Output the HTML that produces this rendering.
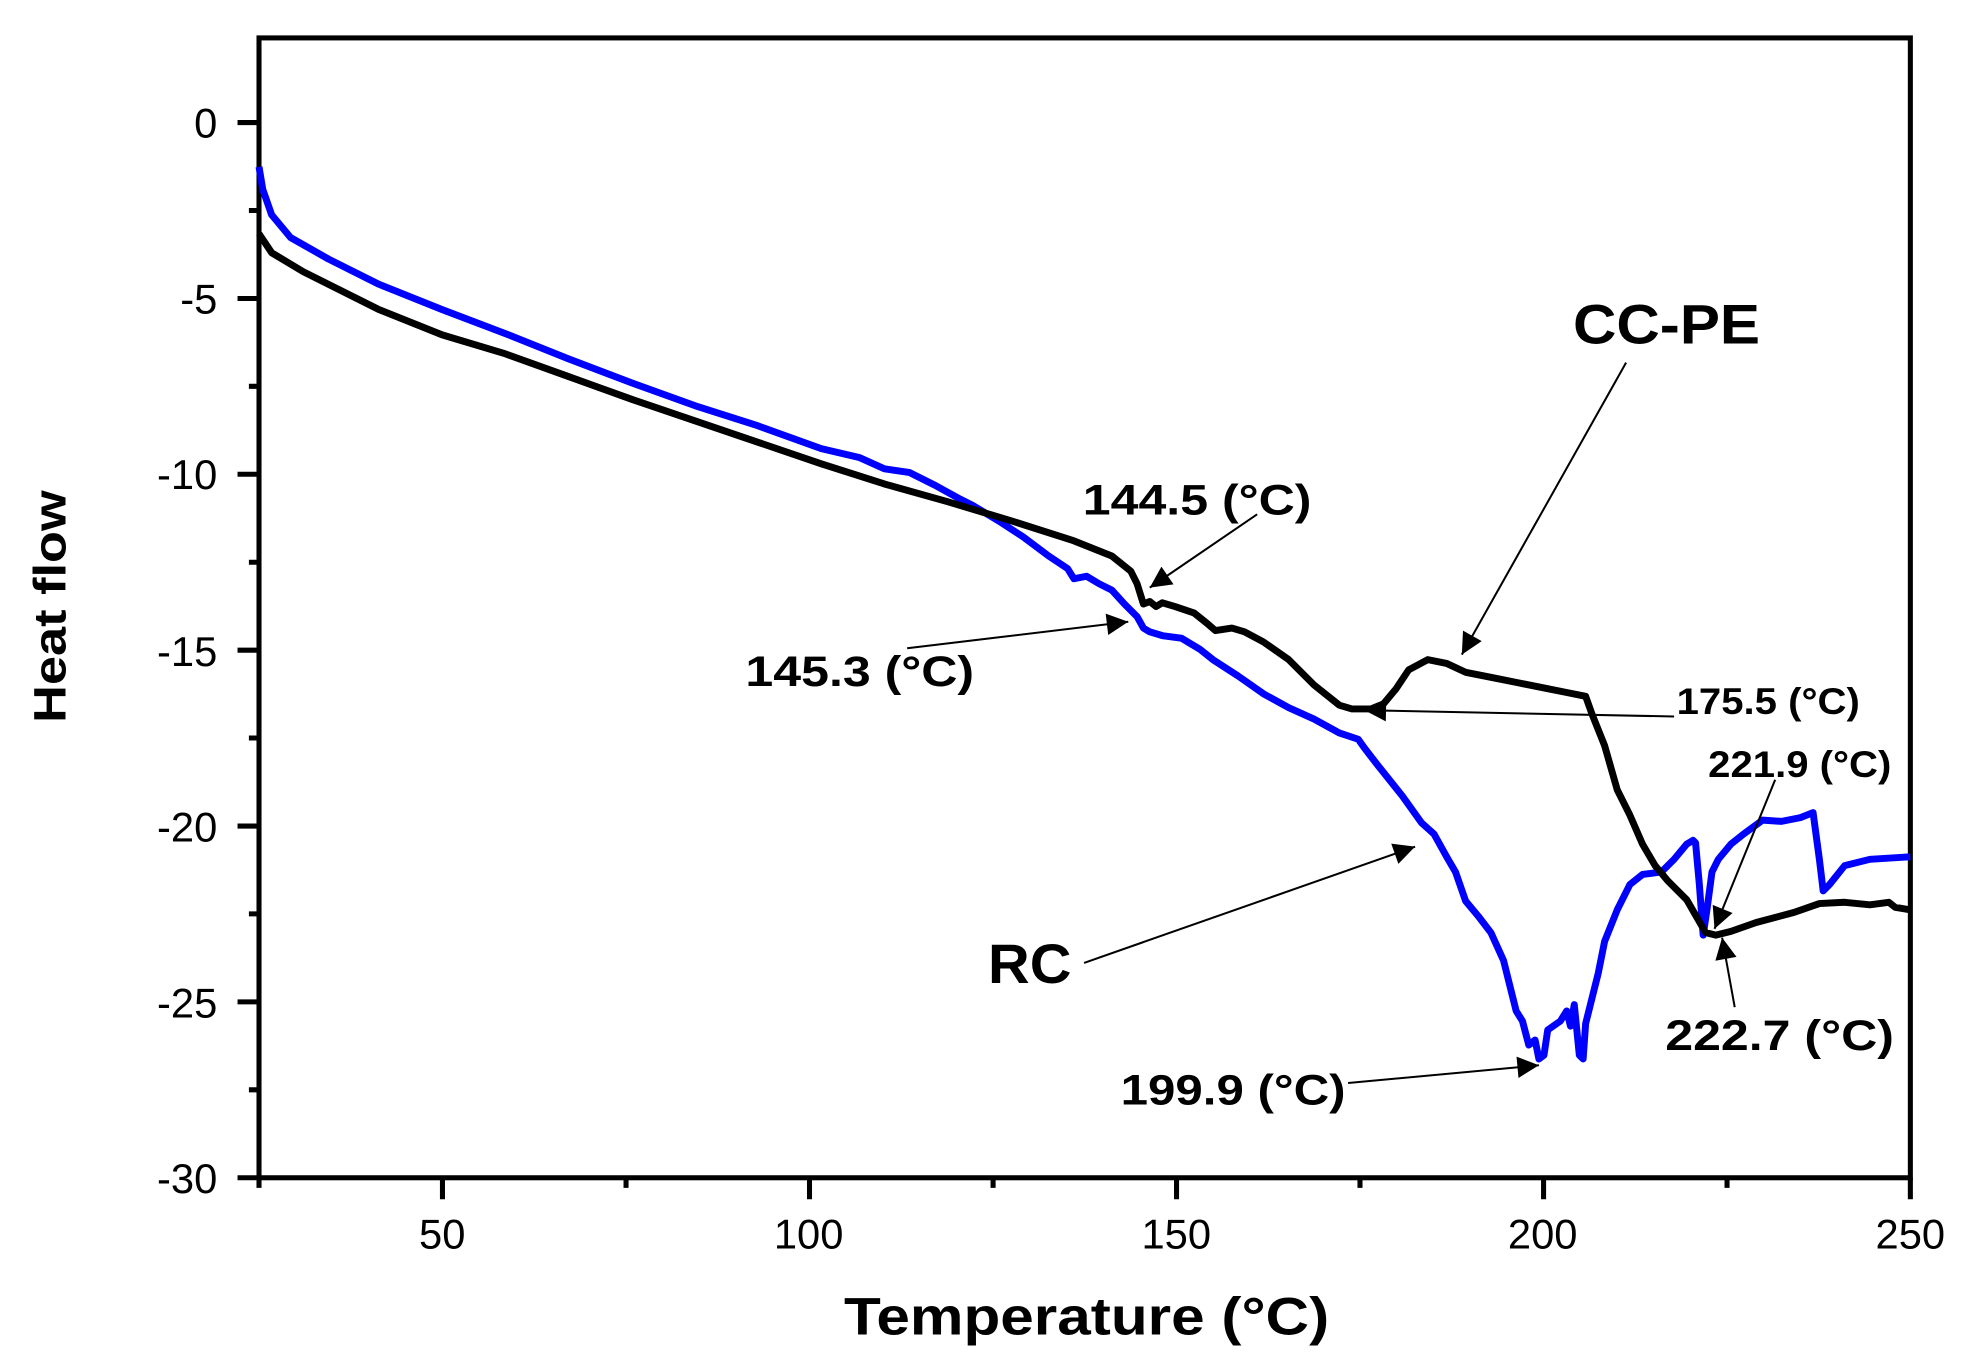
<!DOCTYPE html>
<html><head><meta charset="utf-8"><style>html,body{margin:0;padding:0;background:#fff}svg{display:block}</style></head><body>
<svg width="1971" height="1361" viewBox="0 0 1560 1077" preserveAspectRatio="none" xmlns="http://www.w3.org/2000/svg" font-family="Liberation Sans, Arial, sans-serif">
<defs><marker id="ah" viewBox="0 0 10 10" refX="10" refY="5" markerWidth="24" markerHeight="17" markerUnits="userSpaceOnUse" orient="auto"><path d="M0,0 L10,5 L0,10 z" fill="#000"/></marker></defs>
<rect width="1560" height="1077" fill="#fff"/>
<g stroke="#000" stroke-width="4" fill="none">
<rect x="205" y="30" width="1307" height="902"/>
<path d="M205,932v8 M350.2,932v17 M495.5,932v8 M640.7,932v17 M786,932v8 M931.2,932v17 M1076.4,932v8 M1221.7,932v17 M1366.9,932v8 M1512,932v17"/>
<path d="M205,97h-17 M205,166.6h-8 M205,236.2h-17 M205,305.7h-8 M205,375.3h-17 M205,444.9h-8 M205,514.5h-17 M205,584h-8 M205,653.7h-17 M205,723.2h-8 M205,792.8h-17 M205,862.4h-8 M205,932h-17"/>
</g>
<g font-size="33" fill="#000">
<g text-anchor="end"><text x="172" y="109">0</text><text x="172" y="248">-5</text><text x="172" y="387">-10</text><text x="172" y="527">-15</text><text x="172" y="666">-20</text><text x="172" y="805">-25</text><text x="172" y="944">-30</text></g>
<g text-anchor="middle"><text x="350" y="988">50</text><text x="640" y="988">100</text><text x="931" y="988">150</text><text x="1221" y="988">200</text><text x="1512" y="988">250</text></g>
</g>
<text x="668" y="1056" font-size="42" font-weight="bold" textLength="384" lengthAdjust="spacingAndGlyphs">Temperature (°C)</text>
<text transform="translate(52,572) rotate(-90)" font-size="36" font-weight="bold" textLength="184" lengthAdjust="spacingAndGlyphs">Heat flow</text>
<polyline fill="none" stroke="#0000ff" stroke-width="5.5" stroke-linejoin="round" points="205,132 208,150 215,170 230,188 260,205 300,225 350,245 400,264 450,284 500,303 550,321 600,337 650,355 680,362 700,371 720,374 740,384 760,395 770,400 790,412 810,425 830,440 845,450 850,458 860,456 870,462 880,467 890,478 900,488 905,497 910,500 920,503 935,505 950,514 960,522 980,535 1000,549 1020,560 1040,569 1060,580 1075,585 1080,592 1090,605 1110,630 1125,651 1135,660 1145,678 1152,690 1160,713 1170,725 1180,738 1190,760 1195,780 1200,800 1205,808 1210,827 1215,823 1218,838 1222,835 1225,815 1235,808 1240,800 1243,812 1246,795 1250,835 1253,838 1255,810 1260,790 1265,770 1270,745 1280,720 1290,700 1300,692 1315,690 1325,680 1335,668 1340,665 1342,667 1345,700 1348,740 1351,720 1355,690 1360,680 1370,668 1380,660 1395,649 1410,650 1425,647 1435,643 1440,680 1443,705 1448,700 1460,685 1480,680 1512,678"/>
<polyline fill="none" stroke="#000" stroke-width="5.5" stroke-linejoin="round" points="205,185 215,200 240,215 300,245 350,265 400,280 450,298 500,316 550,333 600,350 650,367 700,383 750,397 800,412 850,428 880,440 895,452 900,462 905,478 910,476 915,480 920,477 930,480 945,485 955,493 962,499 975,497 985,500 1000,508 1020,522 1040,542 1060,558 1070,561 1085,561 1095,557 1105,545 1115,530 1130,522 1145,525 1160,532 1180,536 1200,540 1220,544 1240,548 1255,551 1260,565 1270,590 1280,625 1290,645 1300,668 1310,685 1320,697 1335,712 1350,738 1358,740 1370,737 1390,730 1420,722 1440,715 1460,714 1480,716 1495,714 1500,718 1512,720"/>
<g stroke="#000" stroke-width="1.6" marker-end="url(#ah)">
<line x1="1287" y1="287" x2="1157" y2="518"/>
<line x1="995" y1="407" x2="910" y2="465"/>
<line x1="718" y1="513" x2="893" y2="492"/>
<line x1="1325" y1="567" x2="1080" y2="562"/>
<line x1="1405" y1="617" x2="1357" y2="735"/>
<line x1="858" y1="762" x2="1120" y2="670"/>
<line x1="1373" y1="797" x2="1363" y2="742"/>
<line x1="1067" y1="857" x2="1218" y2="843"/>
</g>
<g font-weight="bold" fill="#000" lengthAdjust="spacingAndGlyphs">
<text x="1245" y="272" font-size="44" textLength="148" lengthAdjust="spacingAndGlyphs">CC-PE</text>
<text x="857" y="407" font-size="34" textLength="181" lengthAdjust="spacingAndGlyphs">144.5 (°C)</text>
<text x="590" y="543" font-size="34" textLength="181" lengthAdjust="spacingAndGlyphs">145.3 (°C)</text>
<text x="1327" y="565" font-size="29" textLength="145" lengthAdjust="spacingAndGlyphs">175.5 (°C)</text>
<text x="1352" y="615" font-size="29" textLength="145" lengthAdjust="spacingAndGlyphs">221.9 (°C)</text>
<text x="782" y="778" font-size="44" textLength="66" lengthAdjust="spacingAndGlyphs">RC</text>
<text x="1318" y="831" font-size="34" textLength="181" lengthAdjust="spacingAndGlyphs">222.7 (°C)</text>
<text x="887" y="874" font-size="34" textLength="178" lengthAdjust="spacingAndGlyphs">199.9 (°C)</text>
</g>
</svg>
</body></html>
